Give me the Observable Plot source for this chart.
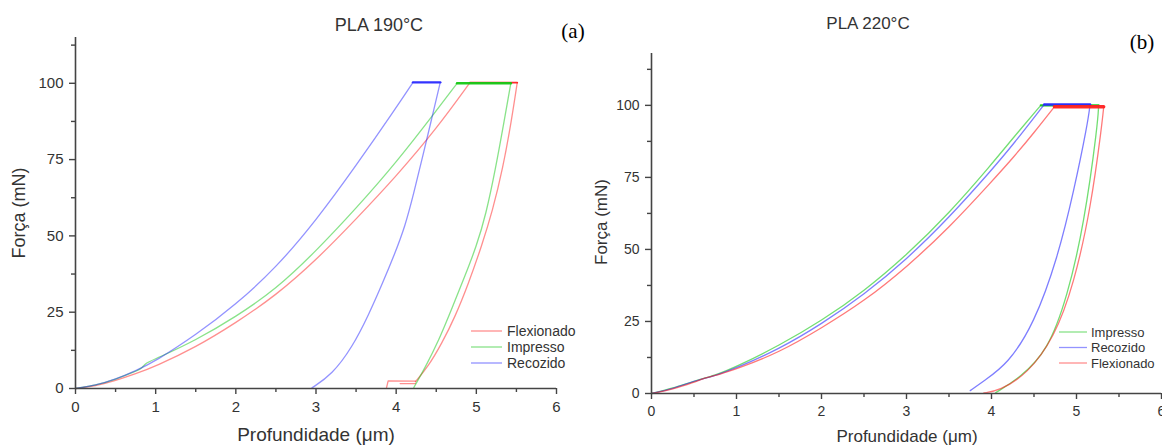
<!DOCTYPE html>
<html><head><meta charset="utf-8">
<script src="https://cdn.jsdelivr.net/npm/d3@7"></script>
<script src="https://cdn.jsdelivr.net/npm/@observablehq/plot@0.6"></script>
<style>
body{margin:0;background:#fff;}
#wrap{position:relative;width:1162px;height:446px;overflow:hidden;background:#fff;font-family:"Liberation Sans",Arial,sans-serif;}
.panel{position:absolute;top:0;}
#overlay{position:absolute;left:0;top:0;pointer-events:none;}
</style></head>
<body><div id="wrap"><div id="pa" class="panel" style="left:0px"></div><div id="pb" class="panel" style="left:580px"></div></div>
<script>
// ---- tick values ----
const xMajor = [0, 1, 2, 3, 4, 5, 6];
const xMinor = [0.5, 1.5, 2.5, 3.5, 4.5, 5.5];
const yMajor = [0, 25, 50, 75, 100];
const yMinor = [12.5, 37.5, 62.5, 87.5, 112.5];

// ---- text ----
const titleA = "PLA 190°C", titleB = "PLA 220°C";
const tagA = "(a)", tagB = "(b)";
const xLabel = "Profundidade (\u03bcm)";
const yLabel = "Força (mN)";
const legendA = ["Flexionado", "Impresso", "Recozido"];
const legendB = ["Impresso", "Recozido", "Flexionado"];

// ---- Panel (a) PLA 190°C : [depth µm, force mN] ----
const aFlexLoad = [[0,0],[0.25,0.8],[0.5,2.6],[0.75,4.8],[1,7.3],[1.5,13.5],[2,21.5],[2.5,30.5],[3,42],[3.5,55.5],[4,69.5],[4.5,85],[4.92,100.2]];
const aFlexHold = [[4.92,100.2],[5.51,100.2]];
const aFlexUnload = [[4.24,2.2],[4.40,7.2],[4.57,14.8],[4.73,23.2],[4.90,34.2],[5.07,47],[5.20,58],[5.33,72],[5.44,88],[5.51,100.2]];
const aFlexTail1 = [[4.24,2.4],[3.9,2.5],[3.88,0.3]];
const aFlexTail2 = [[4.24,1.6],[4.05,1.6]];
const aImpLoad = [[0,0],[0.25,1.0],[0.5,3.0],[0.75,5.6],[0.83,6.6],[0.87,8.3],[1,9.7],[1.5,15.8],[2,23.5],[2.5,32.5],[3,45],[3.5,59],[4,74],[4.5,91],[4.76,100]];
const aImpHold = [[4.76,100],[5.43,100]];
const aImpUnload = [[4.22,0.3],[4.36,6.8],[4.53,15.6],[4.70,26.5],[4.86,37],[5.0,46.5],[5.12,57],[5.24,72],[5.35,88],[5.43,100]];
const aRecLoad = [[0,0],[0.25,1.0],[0.5,3.0],[0.75,5.8],[1,9.0],[1.5,17.5],[2,27.5],[2.5,39.5],[3,55],[3.5,73],[4,92],[4.21,100.3]];
const aRecHold = [[4.21,100.3],[4.55,100.3]];
const aRecUnload = [[2.95,0.2],[3.2,4.6],[3.45,13.4],[3.66,24.3],[3.83,34.5],[3.98,44],[4.11,53],[4.22,64],[4.33,76],[4.44,88],[4.55,100.3]];

// ---- Panel (b) PLA 220°C ----
const bImpLoad = [[0,0],[0.25,1.8],[0.5,4.3],[0.75,6.3],[1,9.3],[1.5,16.6],[2,25.2],[2.5,35.5],[3,48],[3.5,62.5],[4,79.5],[4.26,88.9],[4.58,100]];
const bImpHold = [[4.58,100],[5.26,100]];
const bImpUnload = [[4.05,0.3],[4.34,5.6],[4.66,14.8],[4.89,33.3],[5.09,58.8],[5.25,93.5],[5.26,100]];
const bRecLoad = [[0,0],[0.25,1.6],[0.5,4.3],[0.75,6.2],[1,8.8],[1.5,15.4],[2,24.1],[2.5,34.3],[3,46.5],[3.5,61],[4,77.5],[4.26,86.6],[4.62,100.3]];
const bRecHold = [[4.62,100.3],[5.16,100.3]];
const bRecUnload = [[3.75,1.0],[3.91,4.4],[4.19,10.2],[4.50,24.1],[4.78,47.2],[4.97,70.4],[5.13,93.5],[5.16,100.3]];
const bFlexLoad = [[0,0],[0.25,1.4],[0.5,3.9],[0.65,5.6],[0.8,6.6],[1,8.5],[1.5,14.2],[2,22.7],[2.5,32],[3,43.8],[3.5,57.5],[4,73.5],[4.26,82],[4.5,90.5],[4.74,99.5]];
const bFlexHold = [[4.74,99.5],[5.32,99.5]];
const bFlexUnload = [[3.91,0.2],[4.09,0.9],[4.42,6.7],[4.74,19.4],[4.97,38.0],[5.17,64.6],[5.30,93.5],[5.32,99.5]];

const colors = {Flexionado: "#ff2020", Impresso: "#14c814", Recozido: "#2828ff"};

function rows(pts, series, seg) { return pts.map(([x, y]) => ({x, y, series, seg: series + "-" + seg})); }

function panel(cfg) {
  const curveMarks = [];
  for (const s of cfg.series) {
    const c = colors[s.name];
    const base = {x: "x", y: "y", z: "seg", stroke: c, strokeOpacity: cfg.op, strokeWidth: 1.3};
    curveMarks.push(Plot.line(rows(s.load, s.name, "load"), {...base, curve: "basis"}));
    curveMarks.push(Plot.line(rows(s.unload, s.name, "unload"), {...base, curve: "basis"}));
    for (const [i, t] of (s.tails || []).entries())
      curveMarks.push(Plot.line(rows(t, s.name, "tail" + i), base));
    curveMarks.push(Plot.line(rows(s.hold, s.name, "hold"), {...base, strokeOpacity: 0.95, strokeWidth: s.holdW}));
  }
  return Plot.plot({
    width: cfg.width, height: 446,
    marginLeft: cfg.ml, marginRight: cfg.mr, marginTop: cfg.mt, marginBottom: cfg.mb,
    x: {domain: [0, 6]},
    y: {domain: [0, cfg.ymax]},
    style: {background: "transparent", color: "#333", fontFamily: "'Liberation Sans', Arial, sans-serif", fontSize: cfg.fs + "px", overflow: "visible"},
    marks: [
      ...curveMarks,
      Plot.ruleY([0], {stroke: "#444", strokeWidth: 1.6}),
      Plot.ruleX([0], {stroke: "#444", strokeWidth: 1.6}),
      Plot.axisX({ticks: xMajor, tickSize: 6, tickPadding: 7, tickFormat: d => String(d), label: null, stroke: "#444", strokeWidth: 1.4, fontSize: cfg.fs}),
      Plot.axisX({ticks: xMinor, tickSize: 4, tickFormat: () => "", label: null, stroke: "#444", strokeWidth: 1.4}),
      Plot.axisY({ticks: yMajor, tickSize: 6, tickPadding: 6, tickFormat: d => String(d), label: null, stroke: "#444", strokeWidth: 1.4, fontSize: cfg.fs}),
      Plot.axisY({ticks: yMinor, tickSize: 4, tickFormat: () => "", label: null, stroke: "#444", strokeWidth: 1.4})
    ]
  });
}

document.getElementById("pa").append(panel({
  width: 580, ml: 75, mr: 24, mt: 37, mb: 58, ymax: 115, fs: 15, op: 0.5,
  series: [
    {name: "Flexionado", load: aFlexLoad, hold: aFlexHold, unload: aFlexUnload, tails: [aFlexTail1, aFlexTail2], holdW: 1.8},
    {name: "Impresso", load: aImpLoad, hold: aImpHold, unload: aImpUnload, holdW: 2.6},
    {name: "Recozido", load: aRecLoad, hold: aRecHold, unload: aRecUnload, holdW: 2.4}
  ]
}));
document.getElementById("pb").append(panel({
  width: 582, ml: 71, mr: 1, mt: 53, mb: 53, ymax: 118, fs: 14, op: 0.6,
  series: [
    {name: "Impresso", load: bImpLoad, hold: bImpHold, unload: bImpUnload, holdW: 2.2},
    {name: "Recozido", load: bRecLoad, hold: bRecHold, unload: bRecUnload, holdW: 2.4},
    {name: "Flexionado", load: bFlexLoad, hold: bFlexHold, unload: bFlexUnload, holdW: 3.4}
  ]
}));

// ---- overlay: titles, axis labels, legends ----
const ov = d3.select("#wrap").append("svg").attr("id", "overlay").attr("width", 1162).attr("height", 446)
  .style("font-family", "'Liberation Sans', Arial, sans-serif");
function txt(x, y, s, size, opts = {}) {
  const t = ov.append("text").attr("x", x).attr("y", y).text(s).attr("font-size", size)
    .attr("fill", opts.fill || "#333").attr("text-anchor", opts.anchor || "middle");
  if (opts.serif) t.attr("font-family", "'Liberation Serif', 'Times New Roman', serif");
  if (opts.rotate) t.attr("transform", `rotate(-90 ${x} ${y})`);
  return t;
}
txt(379, 31, titleA, 18);
txt(573, 38, tagA, 21, {serif: true, fill: "#000"});
txt(868, 29, titleB, 17);
txt(1142, 49, tagB, 21, {serif: true, fill: "#000"});
txt(316, 441, xLabel, 19);
txt(907, 442, xLabel, 17);
txt(25, 213, yLabel, 18, {rotate: true});
txt(607, 222, yLabel, 17, {rotate: true});

function legend(names, x0, x1, tx, ys, size) {
  names.forEach((n, i) => {
    ov.append("line").attr("x1", x0).attr("x2", x1).attr("y1", ys[i]).attr("y2", ys[i])
      .attr("stroke", colors[n]).attr("stroke-opacity", 0.5).attr("stroke-width", 1.3);
    txt(tx, ys[i] + size * 0.36, n, size, {anchor: "start"});
  });
}
legend(legendA, 471, 502, 507, [331, 347, 363], 14);
legend(legendB, 1059, 1087, 1091, [332, 347.5, 363], 13);
</script>
</body></html>
